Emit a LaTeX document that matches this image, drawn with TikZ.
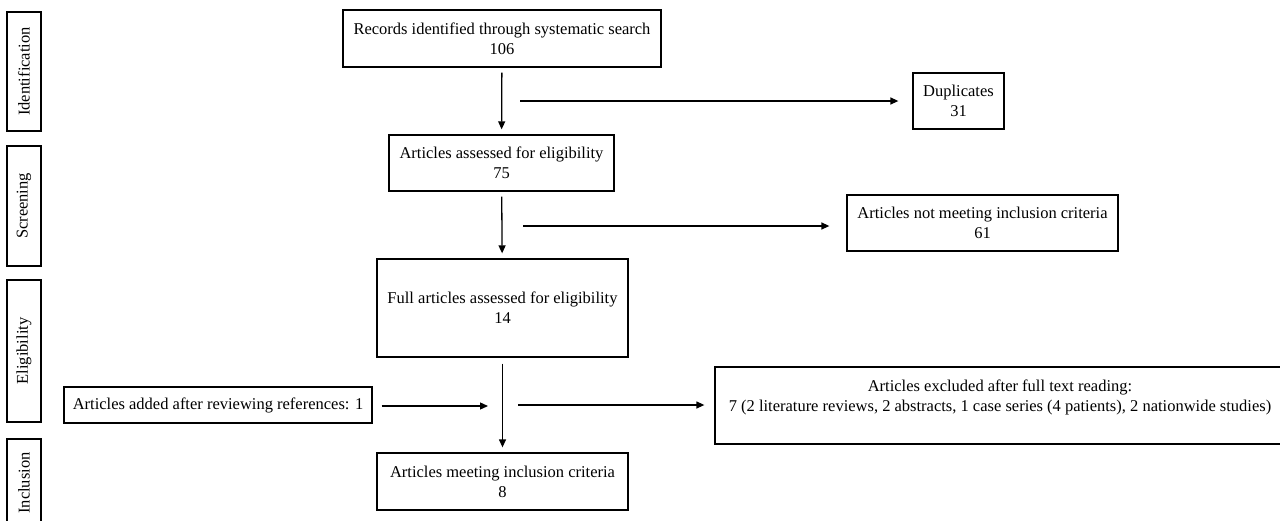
\documentclass[tikz,border=0pt]{standalone}
\usepackage{fontspec}
\setmainfont{Liberation Serif}
\usepackage{tikz}
\usetikzlibrary{arrows.meta}

\begin{document}
\begin{tikzpicture}[x=1pt, y=-1pt,
  font=\fontsize{16.5}{20}\selectfont,
  box/.style={draw, line width=1.3pt, align=center, inner sep=2pt},
  side/.style={box, rotate=90, minimum height=34pt},
  flow/.style={line width=1.3pt, -{Triangle[length=8pt,width=7pt]}}]
\useasboundingbox (0,0) rectangle (1280,520);
% phase labels
\node[side, minimum width=119pt](sid) at (24,71.5){Identification};
\node[side, minimum width=120pt](sscr) at (24,206){Screening};
\node[side, minimum width=142pt](selig) at (24,351){Eligibility};
\node[side, minimum width=88pt](sincl) at (24,483){Inclusion};
% main column
\node[box, minimum width=318pt, minimum height=57pt](rec) at (502,38.5){Records identified through systematic search\\106};
\node[box, minimum width=225pt, minimum height=56pt](ass) at (501.5,163){Articles assessed for eligibility\\75};
\node[box, minimum width=251pt, minimum height=98pt](full) at (502.5,308){Full articles assessed for eligibility\\14};
\node[box, minimum width=251pt, minimum height=57pt](incl) at (502.5,481.5){Articles meeting inclusion criteria\\8};
% side boxes
\node[box, minimum width=91pt, minimum height=56pt](dup) at (958.5,101){Duplicates\\31};
\node[box, minimum width=271pt, minimum height=56pt](notm) at (982.5,223){Articles not meeting inclusion criteria\\61};
\node[box, minimum width=308pt, minimum height=36pt](add) at (218,405){Articles added after reviewing references: 1};
\node[box, minimum width=570pt, minimum height=77pt](excl) at (1000,405.5){Articles excluded after full text reading:\\7 (2 literature reviews, 2 abstracts, 1 case series (4 patients), 2 nationwide studies)\\~};
% free ends
\coordinate (d1) at (520,101);
\coordinate (d2) at (523,226);
\coordinate (j) at (503,406);
\coordinate (d3) at (518,405);
\draw[flow, shorten <=5pt, shorten >=5pt] (rec) -- (ass);
\draw[flow, shorten <=5pt, shorten >=5pt] (ass) -- (full);
\draw[flow, shorten <=6pt, shorten >=5pt] (full) -- (incl);
\draw[flow, shorten >=14pt] (d1) -- (dup.west);
\draw[flow, shorten >=17pt] (d2) -- (d2 -| notm.west);
\draw[flow, shorten <=9pt, shorten >=15pt] (add.east |- j) -- (j);
\draw[flow, shorten >=10pt] (d3) -- (d3 -| excl.west);
\end{tikzpicture}
\end{document}
